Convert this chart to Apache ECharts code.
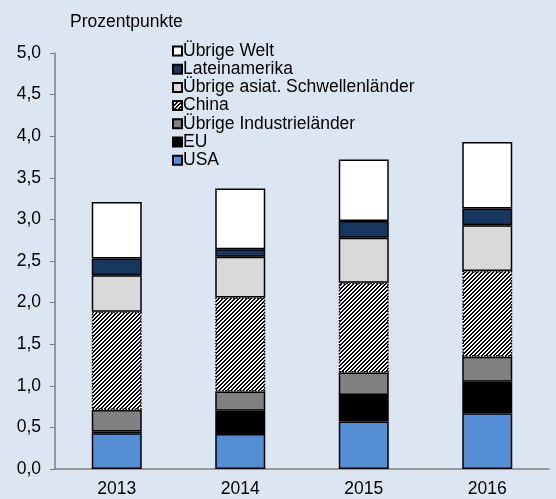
<!DOCTYPE html>
<html>
<head>
<meta charset="utf-8">
<script src="https://cdn.jsdelivr.net/npm/echarts@6/dist/echarts.min.js"></script>
<style>
  html, body { margin: 0; padding: 0; background: #dce6f2; }
  #chart { width: 556px; height: 499px; }
</style>
</head>
<body>
<div id="chart"></div>
<script>
// Jahre und Beiträge (Prozentpunkte)
var years = ['2013', '2014', '2015', '2016'];
var usa = [0.43, 0.42, 0.57, 0.67];
var eu = [0.02, 0.28, 0.32, 0.38];
var industrie = [0.26, 0.23, 0.27, 0.30];
var china = [1.18, 1.13, 1.08, 1.03];
var asiat = [0.44, 0.49, 0.54, 0.55];
var latein = [0.20, 0.09, 0.20, 0.20];
var welt = [0.68, 0.73, 0.74, 0.80];
var yTicks = [0, 0.5, 1, 1.5, 2, 2.5, 3, 3.5, 4, 4.5, 5];

// Schraffur für China
function hatch() {
    var c = document.createElement('canvas');
    c.width = 4; c.height = 4;
    var ctx = c.getContext('2d');
    var img = ctx.createImageData(4, 4);
    for (var y = 0; y < 4; y++) {
        for (var x = 0; x < 4; x++) {
            var i = (y * 4 + x) * 4;
            var v = ((x + y) % 4) < 2 ? 0 : 255;
            img.data[i] = v; img.data[i + 1] = v; img.data[i + 2] = v; img.data[i + 3] = 255;
        }
    }
    ctx.putImageData(img, 0, 0);
    return c;
}

var myChart = echarts.init(document.getElementById('chart'));

function bar(name, data, color, extra) {
    var s = {
        name: name,
        type: 'bar',
        stack: 'total',
        barWidth: 50,
        data: data,
        itemStyle: { color: color, borderColor: '#000', borderWidth: 1.5 }
    };
    if (extra) s.itemStyle.borderType = extra;
    return s;
}

myChart.setOption({
    backgroundColor: '#dce6f2',
    animation: false,
    textStyle: { fontFamily: 'Liberation Sans, Arial, sans-serif' },
    grid: { left: 55, right: 7, top: 53, bottom: 30 },
    legend: {
        orient: 'vertical',
        left: 172,
        top: 42,
        icon: 'rect',
        itemWidth: 9,
        itemHeight: 9,
        itemGap: 0.2,
        padding: 0,
        textStyle: { fontSize: 17.5, color: '#000', lineHeight: 18, padding: [0, 0, 0, -4] },
        data: ['Übrige Welt', 'Lateinamerika', 'Übrige asiat. Schwellenländer', 'China',
               'Übrige Industrieländer', 'EU', 'USA']
    },
    xAxis: {
        type: 'category',
        data: years,
        axisLine: { lineStyle: { color: '#808080', width: 1.5 } },
        axisTick: { length: 4, lineStyle: { color: '#808080' } },
        axisLabel: { fontSize: 17.5, color: '#000', margin: 11 }
    },
    yAxis: {
        type: 'value',
        min: yTicks[0],
        max: yTicks[yTicks.length - 1],
        interval: 0.5,
        name: 'Prozentpunkte',
        nameLocation: 'end',
        nameGap: 22,
        nameTextStyle: { fontSize: 17.5, color: '#000', align: 'left', padding: [0, 0, 0, 15] },
        splitLine: { show: false },
        axisLine: { show: true, lineStyle: { color: '#808080', width: 1.5 } },
        axisTick: { show: true, length: 5, lineStyle: { color: '#808080' } },
        axisLabel: {
            fontSize: 17.5, color: '#000', margin: 14,
            formatter: function (v) { return v.toFixed(1).replace('.', ','); }
        }
    },
    series: [
        bar('USA', usa, '#558ed5'),
        bar('EU', eu, '#000000'),
        bar('Übrige Industrieländer', industrie, '#808080'),
        bar('China', china, { image: hatch(), repeat: 'repeat' }, 'dotted'),
        bar('Übrige asiat. Schwellenländer', asiat, '#d9d9d9'),
        bar('Lateinamerika', latein, '#17375e'),
        bar('Übrige Welt', welt, '#ffffff')
    ]
});
</script>
</body>
</html>
